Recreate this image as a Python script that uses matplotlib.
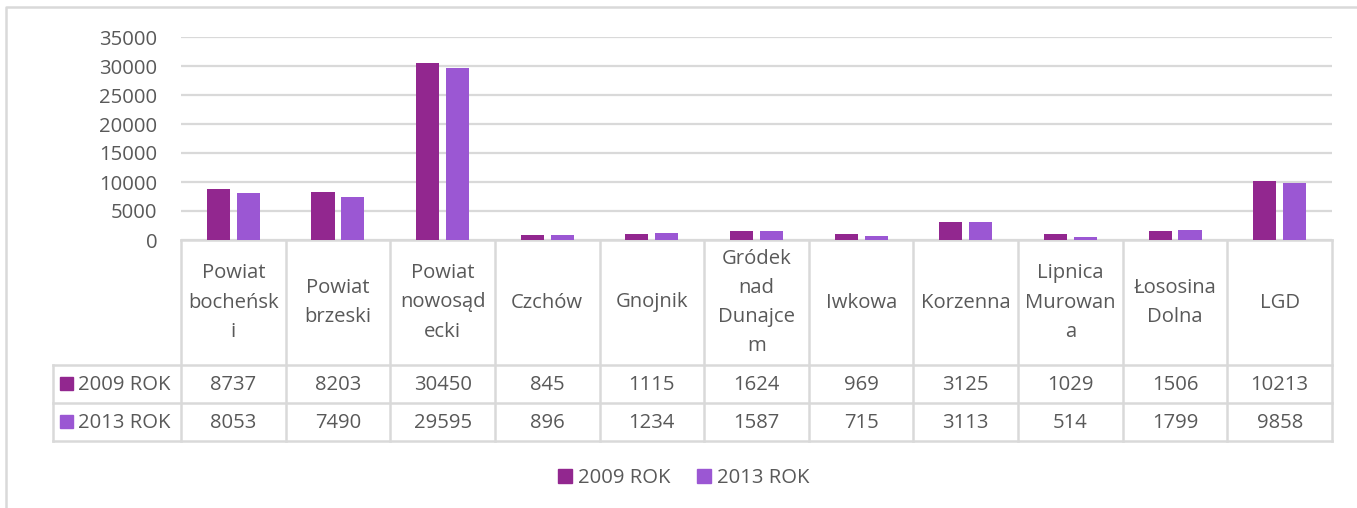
import numpy as np
import matplotlib.pyplot as plt
from matplotlib.patches import Rectangle

plt.rcParams['font.family'] = ['Open Sans', 'DejaVu Sans']

## data
categories = ['Powiat\nbocheńsk\ni', 'Powiat\nbrzeski', 'Powiat\nnowosąd\necki', 'Czchów',
              'Gnojnik', 'Gródek\nnad\nDunajce\nm', 'Iwkowa', 'Korzenna',
              'Lipnica\nMurowan\na', 'Łososina\nDolna', 'LGD']
series_names = ['2009 ROK', '2013 ROK']
rok_2009 = [8737, 8203, 30450, 845, 1115, 1624, 969, 3125, 1029, 1506, 10213]
rok_2013 = [8053, 7490, 29595, 896, 1234, 1587, 715, 3113, 514, 1799, 9858]
colors = ['#92278F', '#9B57D3']
values = [rok_2009, rok_2013]

W, H = 1357, 508
TXT = '#595959'
GRID = '#D9D9D9'
FS = 14.6

fig = plt.figure(figsize=(W / 100, H / 100), dpi=100)

def fx(px):
    return px / W

def fy(py):
    return 1 - py / H

# plot area in pixels
x0, x1 = 181, 1332
ytop, ybot = 37, 240
ax = fig.add_axes([fx(x0), fy(ybot), fx(x1 - x0), (ybot - ytop) / H])

n = len(categories)
x = np.arange(n)
bw = 0.22
off = 0.143
ax.bar(x - off, rok_2009, bw, color=colors[0], zorder=3)
ax.bar(x + off, rok_2013, bw, color=colors[1], zorder=3)
ax.set_xlim(-0.5, n - 0.5)
ax.set_ylim(0, 35000)
ax.set_yticks(np.arange(0, 35001, 5000))
ax.yaxis.grid(True, color=GRID, lw=1.6, zorder=0)
ax.set_xticks([])
ax.tick_params(axis='y', length=0, pad=17, labelsize=FS, labelcolor=TXT)
for s in ax.spines.values():
    s.set_visible(False)

# table drawn in pixel coordinates on an overlay axes
tax = fig.add_axes([0, 0, 1, 1], zorder=-1)
tax.set_xlim(0, W)
tax.set_ylim(H, 0)
tax.axis('off')

colw = (x1 - x0) / n
r0, r1, r2, r3 = 240, 365, 403, 441
lx = 53
lc = dict(color=GRID, lw=1.8, solid_capstyle='projecting')

# outer chart border
tax.plot([6, 6, W + 5], [H + 5, 7, 7], color=GRID, lw=1.8)

tax.plot([x0, x1], [r0, r0], **lc)
for yy in (r1, r2, r3):
    tax.plot([lx, x1], [yy, yy], **lc)
tax.plot([lx, lx], [r1, r3], **lc)
for i in range(n + 1):
    xx = x0 + i * colw
    tax.plot([xx, xx], [r0, r3], **lc)

for i, cat in enumerate(categories):
    cx = x0 + (i + 0.5) * colw
    tax.text(cx, (r0 + r1) / 2, cat, ha='center', va='center', fontsize=FS,
             color=TXT, linespacing=1.62, multialignment='center')
    for j, (ya, yb) in enumerate([(r1, r2), (r2, r3)]):
        tax.text(cx, (ya + yb) / 2 + 1, str(values[j][i]), ha='center', va='center',
                 fontsize=FS, color=TXT)

# series keys in table
for j, (ya, yb) in enumerate([(r1, r2), (r2, r3)]):
    yc = (ya + yb) / 2
    tax.add_patch(Rectangle((60, yc - 7), 13, 13, color=colors[j]))
    tax.text(78, yc + 1, series_names[j], ha='left', va='center', fontsize=FS, color=TXT)

# bottom legend
handles = [Rectangle((0, 0), 1, 1, color=c) for c in colors]
fig.legend(handles, series_names, loc='center', bbox_to_anchor=(fx(684), fy(478)),
           ncol=2, frameon=False, fontsize=FS, labelcolor=TXT,
           handlelength=0.7, handleheight=0.7, handletextpad=0.3, columnspacing=1.3)

fig.savefig('out.png', dpi=100)
